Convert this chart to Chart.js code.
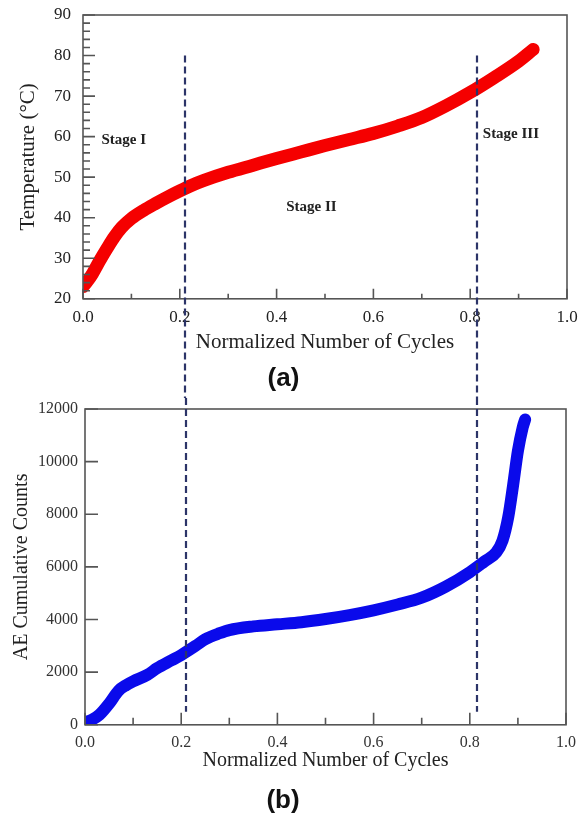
<!DOCTYPE html>
<html><head><meta charset="utf-8">
<script src="https://cdn.jsdelivr.net/npm/chart.js@4/dist/chart.umd.min.js"></script>
<style>
html,body{margin:0;padding:0;background:#fff;width:583px;height:817px;overflow:hidden}
#wa{position:absolute;left:0;top:0;width:583px;height:398px}
#wb{position:absolute;left:0;top:398px;width:583px;height:419px}
</style></head><body>
<div id="wa"><canvas id="ca"></canvas></div>
<div id="wb"><canvas id="cb"></canvas></div>
<script>
// ---- data ----
const cyclesTemp = [0.0, 0.01, 0.02, 0.035, 0.05, 0.065, 0.08, 0.1, 0.125, 0.15, 0.175, 0.2, 0.225, 0.25, 0.3, 0.35, 0.4, 0.45, 0.5, 0.55, 0.6, 0.65, 0.7, 0.75, 0.8, 0.85, 0.9, 0.93];
const temperature = [23.0, 24.5, 26.3, 29.5, 32.5, 35.3, 37.6, 39.8, 41.8, 43.5, 45.1, 46.6, 48.0, 49.2, 51.2, 52.9, 54.6, 56.2, 57.8, 59.3, 60.8, 62.6, 64.7, 67.6, 70.9, 74.6, 78.6, 81.5];
const cyclesAE = [0.0, 0.015, 0.03, 0.05, 0.07, 0.085, 0.1, 0.13, 0.15, 0.18, 0.2, 0.23, 0.25, 0.28, 0.3, 0.35, 0.4, 0.45, 0.5, 0.55, 0.6, 0.65, 0.7, 0.75, 0.8, 0.83, 0.855, 0.868, 0.88, 0.89, 0.9, 0.91, 0.915];
const aeCounts = [100, 200, 380, 800, 1300, 1500, 1650, 1900, 2150, 2450, 2650, 3000, 3250, 3480, 3600, 3740, 3820, 3900, 4020, 4170, 4350, 4570, 4830, 5250, 5800, 6200, 6550, 7000, 7900, 9100, 10400, 11300, 11600];
const stageBounds = [0.21, 0.815];
const xTickValues = [0, 0.2, 0.4, 0.6, 0.8, 1.0];
const tempTickValues = [20, 30, 40, 50, 60, 70, 80, 90];
const aeTickValues = [0, 2000, 4000, 6000, 8000, 10000, 12000];
const stageNames = ['Stage I', 'Stage II', 'Stage III'];
const xTitle = 'Normalized Number of Cycles';
const tempTitle = 'Temperature (\u00B0C)';
const aeTitle = 'AE Cumulative Counts';

const serif = '"Liberation Serif", "Times New Roman", serif';
const sans = '"Liberation Sans", Arial, sans-serif';

function pts(xs, ys) { return xs.map((x, i) => ({x: x, y: ys[i]})); }

const boxTicks = {
  id: 'boxTicks',
  afterDatasetsDraw(chart, args, o) {
    const {ctx, chartArea: a} = chart;
    const xs = chart.scales.x, ys = chart.scales.y;
    ctx.save();
    ctx.strokeStyle = o.color; ctx.lineWidth = o.width;
    ctx.strokeRect(a.left, a.top, a.right - a.left, a.bottom - a.top);
    ctx.beginPath();
    const xt = xs.ticks.map(t => t.value);
    xt.forEach((v, i) => {
      const p = xs.getPixelForValue(v);
      ctx.moveTo(p, a.bottom); ctx.lineTo(p, a.bottom - o.xMajor);
      if (i < xt.length - 1) for (let k = 1; k < o.xDiv; k++) {
        const q = xs.getPixelForValue(v + (xt[i + 1] - v) * k / o.xDiv);
        ctx.moveTo(q, a.bottom); ctx.lineTo(q, a.bottom - o.xMinor);
      }
    });
    const yt = ys.ticks.map(t => t.value);
    yt.forEach((v, i) => {
      const p = ys.getPixelForValue(v);
      ctx.moveTo(a.left, p); ctx.lineTo(a.left + o.yMajor, p);
      if (i < yt.length - 1) for (let k = 1; k < o.yDiv; k++) {
        const q = ys.getPixelForValue(v + (yt[i + 1] - v) * k / o.yDiv);
        ctx.moveTo(a.left, q); ctx.lineTo(a.left + o.yMinor, q);
      }
    });
    ctx.stroke();
    ctx.restore();
  }
};

const stageLines = {
  id: 'stageLines',
  afterDraw(chart, args, o) {
    const {ctx} = chart;
    const xs = chart.scales.x, ys = chart.scales.y;
    const y0 = o.from === 'top' ? 0 : ys.getPixelForValue(o.from);
    const y1 = o.to === 'bottom' ? chart.height : ys.getPixelForValue(o.to);
    ctx.save();
    ctx.strokeStyle = o.color; ctx.lineWidth = o.width; ctx.setLineDash(o.dash);
    stageBounds.forEach(v => {
      const p = Math.round(xs.getPixelForValue(v));
      ctx.beginPath(); ctx.moveTo(p, y0); ctx.lineTo(p, y1); ctx.stroke();
    });
    ctx.restore();
  }
};

const stageText = {
  id: 'stageText',
  afterDatasetsDraw(chart, args, o) {
    if (!o.items) return;
    const {ctx} = chart;
    const xs = chart.scales.x, ys = chart.scales.y;
    ctx.save();
    ctx.font = o.font; ctx.fillStyle = o.color;
    ctx.textAlign = 'left'; ctx.textBaseline = 'middle';
    o.items.forEach((it, i) => {
      ctx.fillText(stageNames[i], xs.getPixelForValue(it.x), ys.getPixelForValue(it.y));
    });
    ctx.restore();
  }
};

function makeChart(id, cfg) {
  return new Chart(document.getElementById(id), {
    type: 'line',
    data: { datasets: [{
      data: pts(cfg.xs, cfg.ys),
      borderColor: cfg.color,
      borderWidth: cfg.bandWidth,
      borderCapStyle: 'round',
      borderJoinStyle: 'round',
      pointRadius: 0,
      cubicInterpolationMode: 'monotone',
      fill: false
    }]},
    options: {
      responsive: true,
      maintainAspectRatio: false,
      animation: false,
      layout: { padding: cfg.padding },
      plugins: {
        legend: { display: false },
        tooltip: { enabled: false },
        title: {
          display: true, position: 'bottom', text: cfg.label,
          color: '#111', font: { family: sans, size: 26, weight: 'bold' },
          padding: { top: 0, bottom: cfg.labelPad }
        },
        boxTicks: cfg.box,
        stageLines: cfg.lines,
        stageText: cfg.stage || {}
      },
      scales: {
        x: {
          type: 'linear', min: 0, max: 1,
          afterBuildTicks: s => { s.ticks = xTickValues.map(v => ({value: v})); },
          afterFit: s => { s.height = cfg.xHeight; },
          grid: { display: false, drawTicks: true, tickLength: cfg.xTickPad },
          border: { display: false },
          ticks: { color: cfg.tickColor, padding: 0, maxRotation: 0,
                   font: { family: serif, size: cfg.tickSize },
                   callback: v => Number(v).toFixed(1) },
          title: { display: true, text: xTitle, color: '#222',
                   font: { family: serif, size: cfg.xTitleSize },
                   padding: { top: 0, bottom: cfg.xTitlePad } }
        },
        y: {
          type: 'linear', min: cfg.yTicks[0], max: cfg.yTicks[cfg.yTicks.length - 1],
          afterBuildTicks: s => { s.ticks = cfg.yTicks.map(v => ({value: v})); },
          afterFit: s => { s.width = cfg.yWidth; },
          grid: { display: false, drawTicks: true, tickLength: cfg.yTickPad },
          border: { display: false },
          ticks: { color: cfg.tickColor, padding: 0,
                   font: { family: serif, size: cfg.tickSize },
                   callback: v => String(v) },
          title: { display: true, text: cfg.yTitle, color: '#222',
                   font: { family: serif, size: cfg.yTitleSize },
                   padding: { top: cfg.yTitlePad, bottom: 0 } }
        }
      }
    },
    plugins: [boxTicks, stageLines, stageText]
  });
}

makeChart('ca', {
  xs: cyclesTemp, ys: temperature, color: 'rgb(245,0,0)', bandWidth: 13,
  label: '(a)', labelPad: 4,
  padding: { top: 15, right: 16, left: 0, bottom: 0 },
  xHeight: 64, xTickPad: 9, xTitleSize: 21, xTitlePad: 8,
  yWidth: 83, yTickPad: 12, yTitlePad: 16, yTitle: tempTitle, yTitleSize: 21,
  tickSize: 17, tickColor: '#222',
  yTicks: tempTickValues,
  box: { color: '#555', width: 1.6, xMajor: 10, xMinor: 5, xDiv: 2, yMajor: 12, yMinor: 7, yDiv: 5 },
  lines: { from: 80, to: 'bottom', color: '#2c3468', width: 2.2, dash: [7, 4] },
  stage: { font: 'bold 15px ' + serif, color: '#222',
           items: [{x: 0.038, y: 59.1}, {x: 0.42, y: 42.5}, {x: 0.826, y: 60.5}] }
});

makeChart('cb', {
  xs: cyclesAE, ys: aeCounts, color: 'rgb(10,10,235)', bandWidth: 12,
  label: '(b)', labelPad: 1,
  padding: { top: 11, right: 17, left: 0, bottom: 0 },
  xHeight: 60, xTickPad: 8, xTitleSize: 20, xTitlePad: 12,
  yWidth: 85, yTickPad: 7, yTitlePad: 10, yTitle: aeTitle, yTitleSize: 20,
  tickSize: 16, tickColor: '#333',
  yTicks: aeTickValues,
  box: { color: '#555', width: 1.6, xMajor: 12, xMinor: 7, xDiv: 2, yMajor: 13, yMinor: 0, yDiv: 1 },
  lines: { from: 'top', to: 500, color: '#2c3468', width: 2.2, dash: [7, 4] }
});
</script>
</body></html>
